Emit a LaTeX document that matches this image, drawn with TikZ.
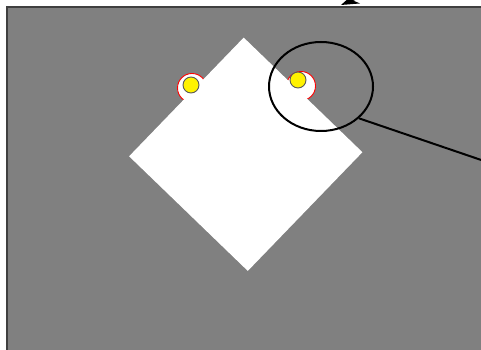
\documentclass[tikz,border=0pt]{standalone}
\usetikzlibrary{shapes.geometric,arrows.meta}
\begin{document}
\begin{tikzpicture}[
    x=1pt, y=1pt,
    field/.style={fill=gray, draw=black!75, line width=2pt},
    plate/.style={rectangle, fill=white, minimum size=165pt, inner sep=0pt, outer sep=0pt, rotate=46},
    notch/.style={circle, fill=white, draw=red, line width=0.9pt, inner sep=0pt, minimum size=29pt},
    dot/.style={circle, fill=yellow, draw=black!65, line width=0.9pt, inner sep=0pt, minimum size=16pt},
    lens/.style={ellipse, draw, line width=2pt, inner sep=0pt, minimum width=104pt, minimum height=89pt},
    arrow/.style={-{Stealth[length=18pt,width=12pt]}, line width=2pt}
  ]
    \clip (0,0) rectangle (481,350);
    \fill[white] (0,0) rectangle (481,350);
    \draw[field] (7,-5) rectangle (490,343);

    % holes and board
    \node[notch] (notchL) at (192,262) {};
    \node[notch] (notchR) at (301,264) {};
    \node[plate] (board) at (245.75,195.75) {};
    \node[dot] (dotL) at (191,265) {};
    \node[dot] (dotR) at (298,270) {};

    % magnifier
    \node[lens] (zoom) at (321,263.5) {};
    \coordinate (zoomend) at (490,187);
    \draw[line width=2pt] (zoom.-40) -- (zoomend);

    % arrow coming in from above
    \coordinate (arrstart) at (390,366);
    \coordinate (arrtip) at (341,345);
    \draw[arrow] (arrstart) -- (arrtip);
  \end{tikzpicture}
\end{document}
